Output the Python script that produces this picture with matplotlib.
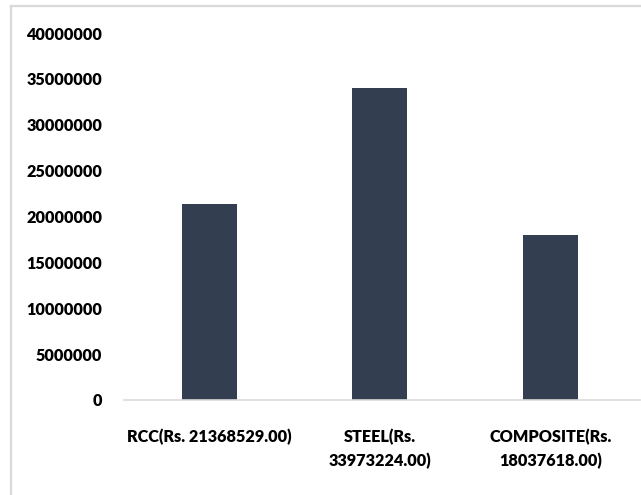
import matplotlib.pyplot as plt
from matplotlib.lines import Line2D

categories = ['RCC(Rs. 21368529.00)', 'STEEL(Rs.\n33973224.00)', 'COMPOSITE(Rs.\n18037618.00)']
costs = [21368529.00, 33973224.00, 18037618.00]
yticks = [0, 5000000, 10000000, 15000000, 20000000, 25000000, 30000000, 35000000, 40000000]

plt.rcParams['font.family'] = ['Lato', 'DejaVu Sans']

W, H = 641, 495
fig = plt.figure(figsize=(W / 100, H / 100), dpi=100)
ax = fig.add_axes([124 / W, 1 - 400 / H, (640 - 124) / W, (400 - 33) / H])

x = range(len(categories))
ax.bar(x, costs, width=0.32, color='#333f50', zorder=2)

ax.set_xlim(-0.5, 2.526)
ax.set_ylim(0, 40000000)
ax.set_yticks(yticks)
ax.set_yticklabels([str(v) for v in yticks], fontsize=11.7, fontweight='heavy')
ax.set_xticks(list(x))
ax.set_xticklabels(categories, fontsize=11.7, fontweight='heavy', linespacing=1.5, va='top')
ax.tick_params(axis='both', length=0)
ax.tick_params(axis='y', pad=15.8)
ax.tick_params(axis='x', pad=21)

for side in ['top', 'right', 'left']:
    ax.spines[side].set_visible(False)
ax.spines['bottom'].set_color('#d9d9d9')
ax.spines['bottom'].set_linewidth(1.2)

# light outer frame of the chart area
fig.add_artist(Line2D([10.5 / W, 10.5 / W], [0, 1 - 5.5 / H], color='#d9d9d9', lw=1.6,
                      transform=fig.transFigure))
fig.add_artist(Line2D([10.5 / W, 1], [1 - 5.5 / H, 1 - 5.5 / H], color='#d9d9d9', lw=1.6,
                      transform=fig.transFigure))

plt.savefig('out.png', dpi=100)
